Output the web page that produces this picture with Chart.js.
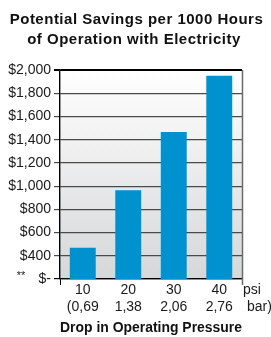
<!DOCTYPE html>
<html>
<head>
<meta charset="utf-8">
<script src="https://cdn.jsdelivr.net/npm/chart.js@4/dist/chart.umd.min.js"></script>
<style>
html,body{margin:0;padding:0;background:#fff;}
#wrap{width:271px;height:337px;position:relative;}
</style>
</head>
<body>
<div id="wrap"><canvas id="c" width="271" height="337"></canvas></div>
<script>
// ---- data ----
const titleLines = ['Potential Savings per 1000 Hours', 'of Operation with Electricity'];
const psiLabels = ['10', '20', '30', '40'];
const barLabels = ['(0,69', '1,38', '2,06', '2,76'];
const savings = [470, 965, 1465, 1950];
const yTickValues = [200, 400, 600, 800, 1000, 1200, 1400, 1600, 1800, 2000];
const yTickLabels = ['$-', '$400', '$600', '$800', '$1,000', '$1,200', '$1,400', '$1,600', '$1,800', '$2,000'];
const xAxisTitle = 'Drop in Operating Pressure';
const unitTop = 'psi';
const unitBottom = 'bar)';
const footMark = '**';

const FONT = '"Liberation Sans", Arial, Helvetica, sans-serif';
const PLOT_LEFT = 60, PLOT_BOTTOM = 279;

const decor = {
  id: 'decor',
  beforeDraw(chart) {
    const {ctx, chartArea: a} = chart;
    const g = ctx.createLinearGradient(0, a.top, 0, a.bottom);
    g.addColorStop(0, '#ffffff');
    g.addColorStop(1, '#d6d7d9');
    ctx.save();
    ctx.fillStyle = g;
    ctx.fillRect(a.left, a.top, a.right - a.left, a.bottom - a.top);
    ctx.restore();
  },
  afterDraw(chart) {
    const {ctx, chartArea: a, scales} = chart;
    ctx.save();
    ctx.strokeStyle = '#6a6a6a';
    ctx.lineWidth = 1.5;
    ctx.beginPath();
    ctx.moveTo(a.right + 0.5, a.top);
    ctx.lineTo(a.right + 0.5, a.bottom + 6);
    ctx.stroke();
    ctx.strokeStyle = '#000';
    ctx.lineWidth = 1.2;
    ctx.beginPath();
    ctx.moveTo(a.left - 6, a.top + 0.5);
    ctx.lineTo(a.right, a.top + 0.5);
    ctx.stroke();
    // title
    ctx.fillStyle = '#111';
    ctx.font = 'bold 15px ' + FONT;
    ctx.textAlign = 'center';
    ctx.textBaseline = 'alphabetic';
    ctx.letterSpacing = '0.5px';
    ctx.fillText(titleLines[0], 136.5, 24);
    ctx.fillText(titleLines[1], 134, 44);
    ctx.letterSpacing = '0px';
    // units
    ctx.fillStyle = '#1a1a1a';
    ctx.font = '14px ' + FONT;
    ctx.textAlign = 'left';
    ctx.textBaseline = 'middle';
    ctx.fillText(unitTop, a.right + 1, a.bottom + 11);
    ctx.fillText(unitBottom, a.right + 5, a.bottom + 28);
    ctx.font = '11px ' + FONT;
    ctx.textAlign = 'center';
    const y0 = scales.y.getPixelForValue(yTickValues[0]);
    ctx.fillText(footMark, 21, y0 - 3);
    ctx.restore();
  }
};

new Chart(document.getElementById('c'), {
  type: 'bar',
  data: {
    labels: psiLabels.map((p, i) => [p, barLabels[i]]),
    datasets: [{
      data: savings,
      backgroundColor: '#0091cf',
      borderWidth: 0,
      categoryPercentage: 1,
      barPercentage: 0.57
    }]
  },
  options: {
    responsive: false,
    animation: false,
    devicePixelRatio: 1,
    layout: {padding: {left: 0, right: 29, top: 70, bottom: 0}},
    plugins: {
      legend: {display: false},
      tooltip: {enabled: false},
      title: {display: false}
    },
    scales: {
      x: {
        offset: true,
        grid: {
          display: true,
          offset: true,
          drawOnChartArea: false,
          drawTicks: true,
          tickLength: 6,
          color: (c) => (c.index === 0 || c.index === psiLabels.length) ? '#000' : 'rgba(0,0,0,0)'
        },
        border: {display: true, color: '#000', width: 1.2},
        ticks: {
          color: '#1a1a1a',
          font: {family: FONT, size: 14, lineHeight: 1.25},
          padding: -4,
          maxRotation: 0,
          autoSkip: false
        },
        title: {
          display: true,
          text: xAxisTitle,
          color: '#111',
          font: {family: FONT, size: 14, weight: 'bold'},
          padding: {top: 4, bottom: 0}
        },
        afterFit(s) { s.height = 337 - PLOT_BOTTOM; }
      },
      y: {
        min: 200,
        max: 2000,
        afterBuildTicks(s) { s.ticks = yTickValues.map(v => ({value: v})); },
        grid: {
          color: (c) => (c.index === 0 || c.index === yTickValues.length - 1) ? '#000' : '#4a4a4a',
          lineWidth: 1.2,
          drawTicks: true,
          tickLength: 6
        },
        border: {display: true, color: '#000', width: 1.4},
        ticks: {
          color: '#1a1a1a',
          font: {family: FONT, size: 14},
          padding: 3,
          callback: (v, i) => yTickLabels[i]
        },
        afterFit(s) { s.width = PLOT_LEFT; }
      }
    }
  },
  plugins: [decor]
});
</script>
</body>
</html>
